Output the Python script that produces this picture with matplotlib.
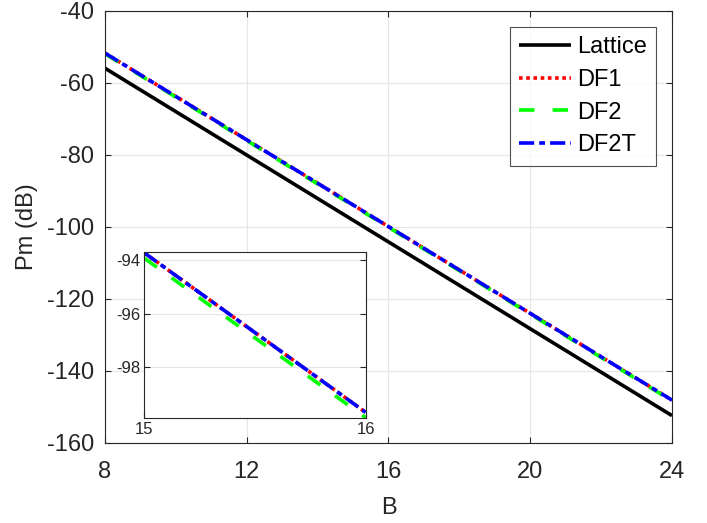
import matplotlib

matplotlib.use("Agg")
import matplotlib.pyplot as plt  # noqa: E402

# values
bits = [8, 24]
lattice_db = [-55.9, -152.4]
df1_db = [-51.7, -148.1]
df2_db = [-51.9, -148.3]
df2t_db = [-51.7, -148.1]

zoom_bits = [15, 16]
zoom_df1 = [-93.72, -99.70]
zoom_df2 = [-93.92, -99.90]
zoom_df2t = [-93.72, -99.70]

main_xticks = [8, 12, 16, 20, 24]
main_yticks = [-160, -140, -120, -100, -80, -60, -40]
zoom_yticks = [-98, -96, -94]

plt.rcParams["font.family"] = ["Liberation Sans", "DejaVu Sans"]
plt.rcParams["axes.unicode_minus"] = False
AXIS_GREY = "#262626"
GRID_GREY = "#e6e6e6"


def style_axis(axis, size, xpad, ypad):
    axis.tick_params(direction="in", top=True, right=True, labelsize=size,
                     colors=AXIS_GREY, length=4, width=0.8)
    axis.tick_params(axis="x", pad=xpad)
    axis.tick_params(axis="y", pad=ypad)
    for spine in axis.spines.values():
        spine.set_color(AXIS_GREY)
        spine.set_linewidth(0.8)
    axis.grid(True, color=GRID_GREY, linewidth=0.8)
    axis.set_axisbelow(True)


def draw_lines(axis, x, series, with_labels):
    styles = [
        ("Lattice", "black", None),
        ("DF1", "red", (1.0, 1.0)),
        ("DF2", "#00ff00", (4.3, 5.0)),
        ("DF2T", "blue", (4.2, 1.4, 1.6, 1.4)),
    ]
    for (label, color, dashes), values in zip(styles, series):
        if values is None:
            continue
        kwargs = dict(color=color, linewidth=2.6, solid_capstyle="butt",
                      dash_capstyle="butt")
        if dashes is not None:
            kwargs["dashes"] = dashes
        axis.plot(x, values, label=label if with_labels else None, **kwargs)


figure = plt.figure(figsize=(7.07, 5.23), dpi=100)
axis = figure.add_axes([0.1485, 0.153, 0.802, 0.826])
draw_lines(axis, bits, [lattice_db, df1_db, df2_db, df2t_db], True)
axis.set_xlim(8, 24)
axis.set_ylim(-160, -40)
axis.set_xticks(main_xticks)
axis.set_yticks(main_yticks)
style_axis(axis, 17, 13, 8)
axis.set_xlabel("B", fontsize=17, color=AXIS_GREY, labelpad=10)
axis.set_ylabel("Pm (dB)", fontsize=17, color=AXIS_GREY, labelpad=6)
legend = axis.legend(loc="upper right", fontsize=17, frameon=True,
                     fancybox=False, handlelength=2.2, borderaxespad=0.68,
                     labelspacing=0.45, handletextpad=0.22, borderpad=0.4)
legend.get_frame().set_edgecolor(AXIS_GREY)
legend.get_frame().set_linewidth(0.8)

inset = figure.add_axes([0.2041, 0.2013, 0.3132, 0.3163])
draw_lines(inset, zoom_bits, [None, zoom_df1, zoom_df2, zoom_df2t], False)
inset.set_xlim(15, 16)
inset.set_ylim(-99.9, -93.7)
inset.set_xticks(zoom_bits)
inset.set_yticks(zoom_yticks)
style_axis(inset, 12, 3, 3)
inset.grid(False, axis="x")

figure.savefig("out.png", dpi=100)
plt.close(figure)
